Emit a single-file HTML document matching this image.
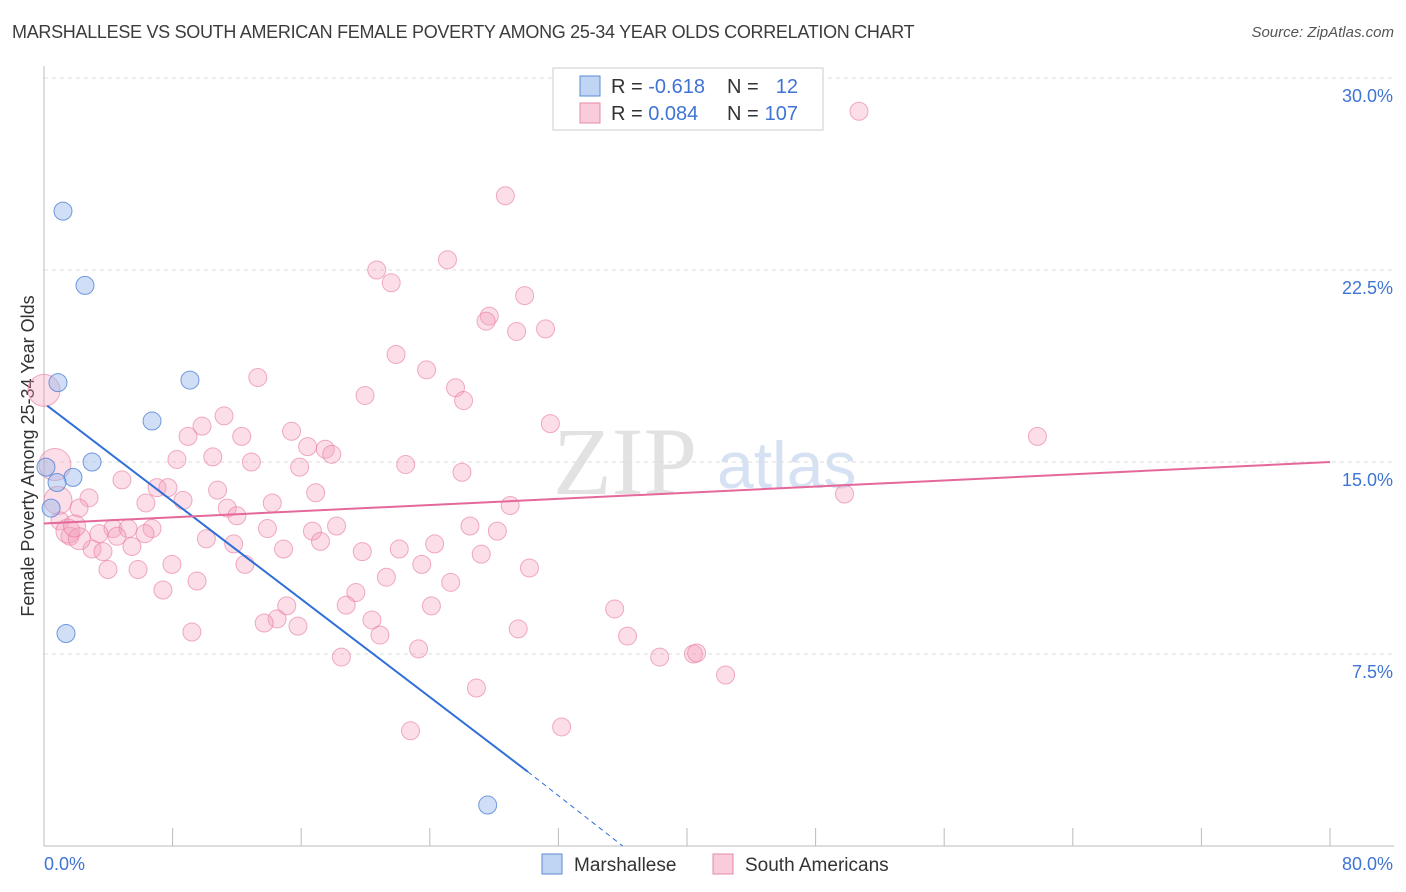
<!DOCTYPE html>
<html><head><meta charset="utf-8">
<style>
body{margin:0;background:#fff;font-family:"Liberation Sans",sans-serif;}
#wrap{position:relative;width:1406px;height:892px;overflow:hidden;}
.title{position:absolute;left:12px;top:22px;font-size:18px;color:#3c3c3c;letter-spacing:-0.3px}
.source{position:absolute;right:12px;top:24px;font-size:15px;color:#555;font-style:italic}
</style></head><body>
<div id="wrap">
<div class="title">MARSHALLESE VS SOUTH AMERICAN FEMALE POVERTY AMONG 25-34 YEAR OLDS CORRELATION CHART</div>
<div class="source">Source: ZipAtlas.com</div>
<svg id="chart" width="1406" height="892" style="position:absolute;left:0;top:0"></svg>
</div>
<script>
const xTicks=[0,8,16,24,32,40,48,56,64,72,80];
const yTicks=[7.5,15,22.5,30];
const yTickLabels=["7.5%","15.0%","22.5%","30.0%"];
const marX=[1.18,2.55,0.87,9.08,6.72,2.99,0.12,1.8,0.81,0.44,1.37,27.6];
const marY=[24.8,21.9,18.1,18.2,16.6,15.0,14.8,14.4,14.2,13.2,8.3,1.6];
const saX=[50.7,28.7,25.1,20.7,21.6,29.9,27.7,27.5,29.4,31.2,21.9,23.8,13.3,25.6,19.97,26.1,11.2,9.83,31.5,61.8,8.96,12.3,15.4,17.5,16.4,17.9,10.5,8.27,12.9,22.5,15.9,26.0,4.85,7.03,7.71,10.8,16.9,2.8,8.65,6.34,14.2,11.4,29.0,49.8,2.18,12.0,0.99,26.5,28.2,4.29,5.23,6.72,13.9,18.2,3.42,16.7,1.62,6.28,4.54,10.1,17.2,24.3,11.8,14.9,19.8,22.1,27.2,2.99,3.67,5.47,7.96,12.5,23.5,5.85,3.98,30.2,21.3,25.3,7.4,19.4,9.52,18.8,15.1,24.1,35.5,20.4,14.5,13.7,15.8,29.5,20.9,9.2,36.3,23.3,18.5,38.3,40.4,40.6,42.4,26.9,32.2,22.8,0.68,0,0.87,1.49,2.2,1.9];
const saY=[28.7,25.4,22.9,22.5,22.0,21.5,20.7,20.5,20.1,20.2,19.2,18.6,18.3,17.9,17.6,17.4,16.8,16.4,16.5,16.0,16.0,16.0,16.2,15.5,15.6,15.3,15.2,15.1,15.0,14.9,14.8,14.6,14.3,14.0,14.0,13.9,13.8,13.6,13.5,13.4,13.4,13.2,13.3,13.75,13.2,12.9,12.7,12.5,12.3,12.4,12.4,12.4,12.4,12.5,12.2,12.3,12.1,12.2,12.1,12.0,11.9,11.8,11.8,11.6,11.5,11.6,11.4,11.6,11.5,11.7,11.0,11.0,11.0,10.8,10.8,10.86,10.5,10.3,10.0,9.9,10.35,9.41,9.38,9.38,9.26,8.83,8.87,8.71,8.59,8.48,8.24,8.36,8.2,7.7,7.38,7.38,7.5,7.54,6.68,6.17,4.65,4.5,14.9,17.8,13.5,12.3,12.0,12.5];
const saR=[9,9,9,9,9,9,9,9,9,9,9,9,9,9,9,9,9,9,9,9,9,9,9,9,9,9,9,9,9,9,9,9,9,9,9,9,9,9,9,9,9,9,9,9,9,9,9,9,9,9,9,9,9,9,9,9,9,9,9,9,9,9,9,9,9,9,9,9,9,9,9,9,9,9,9,9,9,9,9,9,9,9,9,9,9,9,9,9,9,9,9,9,9,9,9,9,9,9,9,9,9,9,16,16,14,12,11,11];
const marTrend=[[0.2,17.2],[30.1,2.9]];
const marDash=[[30.1,2.9],[36.0,0]];
const saTrend=[[0,12.6],[80,15.0]];

const X0=44,X1=1330,Y0=846,Y30=78;
const sx=v=>X0+(X1-X0)*v/80;
const sy=v=>Y0-(Y0-Y30)*v/30;
const svg=document.getElementById('chart');
const NS='http://www.w3.org/2000/svg';
function mk(t,a){const e=document.createElementNS(NS,t);for(const k in a)e.setAttribute(k,a[k]);svg.appendChild(e);return e;}

let w=mk('text',{x:553,y:494,'font-size':96,fill:'#e2e2e2','font-family':'Liberation Serif,serif'});w.textContent='ZIP';


let w2=mk('text',{x:717,y:488,'font-size':66,fill:'#d6e2f3','font-family':'Liberation Sans,sans-serif'});w2.textContent='atlas';



yTicks.forEach((t,i)=>{
 const g=mk('line',{x1:X0,x2:1394,y1:sy(t),y2:sy(t),stroke:'#dcdcdc','stroke-dasharray':'4,4'});
 
 
 const l=mk('text',{x:1393,y:sy(t)+24,'text-anchor':'end','font-size':18,fill:'#3f74d4'});l.textContent=yTickLabels[i];
 
 
});
const ax=mk('line',{x1:X0,x2:X0,y1:66,y2:Y0,stroke:'#bbb'});


const bx=mk('line',{x1:X0,x2:1394,y1:Y0,y2:Y0,stroke:'#bbb'});


xTicks.forEach(t=>{
 const k=mk('line',{x1:sx(t),x2:sx(t),y1:Y0,y2:Y0-18,stroke:'#bbb'});
 
 
});
let xl=mk('text',{x:44,y:870,'font-size':18,fill:'#3f74d4'});xl.textContent='0.0%';


let xr=mk('text',{x:1393,y:870,'font-size':18,fill:'#3f74d4','text-anchor':'end'});xr.textContent='80.0%';


let yt=mk('text',{x:34,y:456,'font-size':18,fill:'#333','text-anchor':'middle',transform:'rotate(-90 34 456)'});yt.textContent='Female Poverty Among 25-34 Year Olds';



saX.forEach((v,i)=>{
 const c=mk('circle',{cx:sx(v),cy:sy(saY[i]),r:saR[i],fill:'rgba(244,160,188,0.35)',stroke:'rgba(232,120,156,0.6)','stroke-width':1});
 
 
});
marX.forEach((v,i)=>{
 const c=mk('circle',{cx:sx(v),cy:sy(marY[i]),r:9,fill:'rgba(150,185,235,0.45)',stroke:'rgba(80,130,215,0.8)','stroke-width':1});
 
 
});
const t1=mk('line',{x1:sx(marTrend[0][0]),y1:sy(marTrend[0][1]),x2:sx(marTrend[1][0]),y2:sy(marTrend[1][1]),stroke:'#2f6fd8','stroke-width':2});


const t2=mk('line',{x1:sx(marDash[0][0]),y1:sy(marDash[0][1]),x2:sx(marDash[1][0]),y2:sy(marDash[1][1]),stroke:'#2f6fd8','stroke-width':1,'stroke-dasharray':'5,4'});


const t3=mk('line',{x1:sx(saTrend[0][0]),y1:sy(saTrend[0][1]),x2:sx(saTrend[1][0]),y2:sy(saTrend[1][1]),stroke:'#e5689a','stroke-width':2});



const lb=mk('rect',{x:553,y:68,width:270,height:62,fill:'#fff',stroke:'#ccc'});


const rows=[['-0.618','12','rgba(150,185,235,0.6)','#5b8ad6',86],['0.084','107','rgba(244,170,195,0.6)','#e58aa8',113]];
rows.forEach(r=>{
 const s=mk('rect',{x:580,y:r[4]-10,width:20,height:20,fill:r[2],stroke:r[3]});
 
 
 const t=mk('text',{x:611,y:r[4]+7,'font-size':20,fill:'#333'});
 t.innerHTML='R = <tspan fill="#3f74d4">'+r[0]+'</tspan>';
 
 
 const n=mk('text',{x:727,y:r[4]+7,'font-size':20,fill:'#333'});
 n.innerHTML='N = <tspan fill="#3f74d4" x="798" text-anchor="end">'+r[1]+'</tspan>';
 
 
});
[[542,'Marshallese','rgba(150,185,235,0.6)','#5b8ad6'],[713,'South Americans','rgba(244,170,195,0.6)','#e58aa8']].forEach(l=>{
 const s=mk('rect',{x:l[0],y:854,width:20,height:20,fill:l[2],stroke:l[3]});
 
 
 const t=mk('text',{x:l[0]+32,y:871,'font-size':19,fill:'#333'});t.textContent=l[1];
 
 
});
</script>
</body></html>
